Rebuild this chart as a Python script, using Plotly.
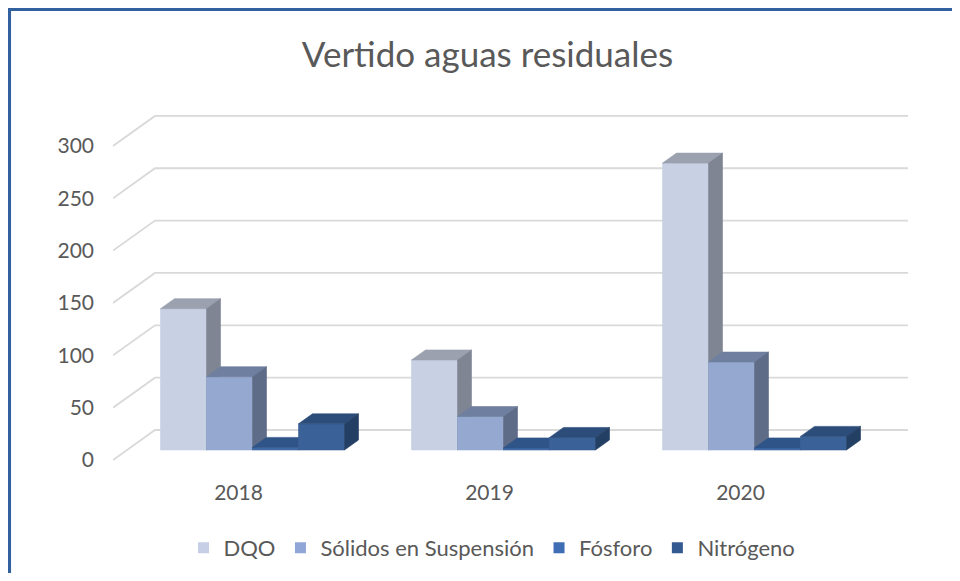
import plotly.graph_objects as go

# ---------------- data ----------------
categories = ["2018", "2019", "2020"]
series_names = ["DQO", "Sólidos en Suspensión", "Fósforo", "Nitrógeno"]
dqo = [135, 86, 274]
solidos = [70, 32, 84]
fosforo = [2.5, 2, 2]
nitrogeno = [25, 12, 13]
y_ticks = [0, 50, 100, 150, 200, 250, 300]

values = [dqo, solidos, fosforo, nitrogeno]

front_colors = ["#C8D0E4", "#95A8D0", "#3F69A4", "#3A6298"]
top_colors = ["#9BA1AE", "#6F7F9F", "#2F5488", "#2C4C79"]
side_colors = ["#7F8593", "#5E6C87", "#294A78", "#243F64"]
legend_colors = ["#C6CFE6", "#8FA6D6", "#3F6EB4", "#345A92"]

# ---------------- geometry (pseudo-3D projection) ----------------
OFF = 8                      # page body margin around the figure
W, H = 960 - 2 * OFF, 581 - 2 * OFF
L, T = 113 - OFF, 100 - OFF
R = W - (920 - OFF)
B = H - (470 - OFF)
PX_CAT = 251.0      # pixels per category
PX_VAL = 1.047      # pixels per value unit
plot_w = W - L - R
plot_h = H - T - B
x0 = -0.5
x1 = x0 + plot_w / PX_CAT
y0 = -10 / PX_VAL
y1 = y0 + plot_h / PX_VAL

depth_dx = 42 / PX_CAT          # full floor depth in x units
depth_dy = 30 / PX_VAL          # full floor depth in y units
bar_front, bar_back = 1 / 3, 2 / 3
bar_w = 46 / PX_CAT
n_ser = len(series_names)

fig = go.Figure()

# back-wall gridlines with side-wall diagonals
gx, gy = [], []
for v in y_ticks:
    gx += [x0, x0 + depth_dx, len(categories) - 0.5 + depth_dx, None]
    gy += [v, v + depth_dy, v + depth_dy, None]
fig.add_trace(go.Scatter(x=gx, y=gy, mode="lines",
                         line=dict(color="#D9D9D9", width=1.8),
                         hoverinfo="skip", showlegend=False))


def poly(pts):
    xs = [p[0] for p in pts] + [pts[0][0], None]
    ys = [p[1] for p in pts] + [pts[0][1], None]
    return xs, ys


fdx, fdy = bar_front * depth_dx, bar_front * depth_dy
ddx, ddy = (bar_back - bar_front) * depth_dx, (bar_back - bar_front) * depth_dy

for k in range(n_ser):
    fx, fy, tx, ty, sx, sy = [], [], [], [], [], []
    for i, v in enumerate(values[k]):
        xl = i + fdx - n_ser * bar_w / 2 + k * bar_w
        xr = xl + bar_w
        yb = fdy
        yt = fdy + v
        a, b_ = poly([(xl, yb), (xr, yb), (xr, yt), (xl, yt)])
        fx += a; fy += b_
        a, b_ = poly([(xl, yt), (xr, yt), (xr + ddx, yt + ddy), (xl + ddx, yt + ddy)])
        tx += a; ty += b_
        a, b_ = poly([(xr, yb), (xr + ddx, yb + ddy), (xr + ddx, yt + ddy), (xr, yt)])
        sx += a; sy += b_
    for xs, ys, c in ((fx, fy, front_colors[k]), (tx, ty, top_colors[k]), (sx, sy, side_colors[k])):
        fig.add_trace(go.Scatter(x=xs, y=ys, mode="lines", fill="toself",
                                 fillcolor=c, line=dict(color=c, width=0.6),
                                 hoverinfo="skip", showlegend=False))

# legend entries
for k, name in enumerate(series_names):
    fig.add_trace(go.Scatter(x=[None], y=[None], mode="markers", name=name,
                             marker=dict(symbol="square", size=11, color=legend_colors[k])))

FONT = "Lato, Carlito, Calibri, sans-serif"
GREY = "#595959"


def px_to_paper_x(px):          # px in page coordinates
    return (px - OFF - L) / plot_w


def px_to_paper_y(py):
    return (H - B - (py - OFF)) / plot_h


border = "#33609E"
bx_l = px_to_paper_x(9.3)
bx_r = px_to_paper_x(955)
by_t = px_to_paper_y(9.3)
by_b = px_to_paper_y(575)
fig.add_shape(type="path", xref="paper", yref="paper",
              path=f"M {bx_l},{by_b} L {bx_l},{by_t} L {bx_r},{by_t}",
              line=dict(color=border, width=3.5))

fig.update_layout(
    width=W, height=H,
    margin=dict(l=L, r=R, t=T, b=B),
    paper_bgcolor="white", plot_bgcolor="white",
    font=dict(family=FONT, color=GREY),
    title=dict(text="Vertido aguas residuales", x=(487.5 - OFF) / W, xanchor="center",
               y=1 - (55 - OFF) / H, yanchor="middle",
               font=dict(family=FONT, size=35, color=GREY)),
    xaxis=dict(range=[x0, x1], tickvals=list(range(len(categories))),
               ticktext=categories, showgrid=False, zeroline=False,
               showline=False, ticks="", ticklabelstandoff=8,
               tickfont=dict(family=FONT, size=21, color=GREY), fixedrange=True),
    yaxis=dict(range=[y0, y1], tickvals=y_ticks, showgrid=False, zeroline=False,
               showline=False, ticks="", ticklabelstandoff=18,
               tickfont=dict(family=FONT, size=21, color=GREY), fixedrange=True),
    legend=dict(orientation="h", xref="container", yref="container",
                x=(492 - OFF) / W, xanchor="center", y=1 - (548 - OFF) / H, yanchor="middle",
                font=dict(family=FONT, size=22, color=GREY),
                itemwidth=30, tracegroupgap=0),
    showlegend=True,
)

fig.write_html("out.html", config={"displayModeBar": False})
